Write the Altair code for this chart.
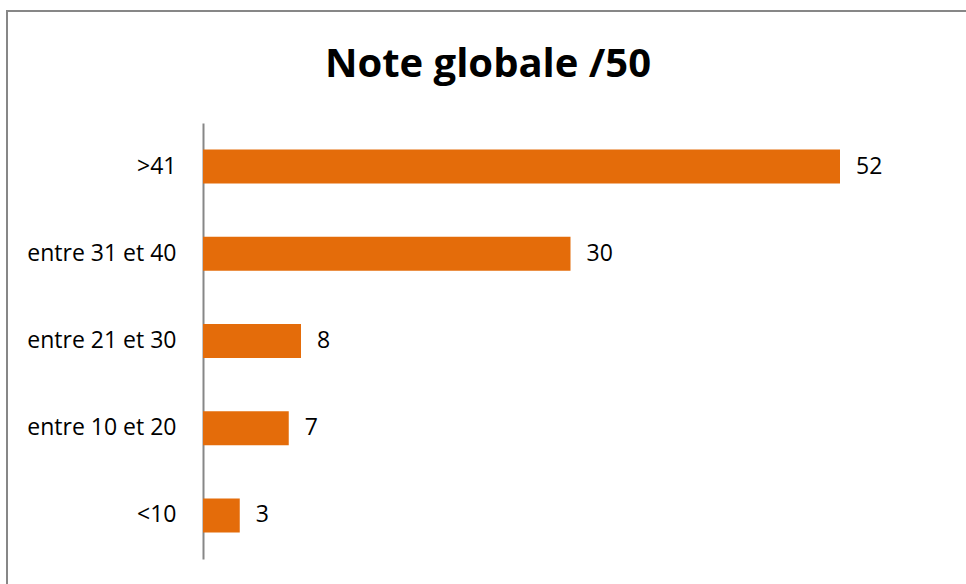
import altair as alt
import pandas as pd

categories = [">41", "entre 31 et 40", "entre 21 et 30", "entre 10 et 20", "<10"]
values = [52, 30, 8, 7, 3]
title_text = "Note globale /50"

df = pd.DataFrame({"cat": categories, "val": values})

FONT = "Open Sans"
W, H = 637, 436

y_enc = alt.Y("cat:N", sort=categories,
              scale=alt.Scale(paddingInner=0.61, paddingOuter=0.305),
              axis=alt.Axis(title=None, ticks=False, domain=True, domainColor="#878787",
                            domainWidth=2, labelFont=FONT, labelFontSize=23,
                            labelColor="#000000", labelPadding=27, grid=False))
x_enc = alt.X("val:Q", scale=alt.Scale(domain=[0, 52], nice=False), axis=None)

base = alt.Chart(df)
bars = base.mark_bar(color="#E46C0A").encode(x=x_enc, y=y_enc)
texts = base.mark_text(align="left", baseline="middle", dx=16, font=FONT,
                       fontSize=23, color="#000000").encode(x=x_enc, y=y_enc, text="val:Q")

frame = alt.Chart(df).mark_rect(fill=None, stroke="#878787", strokeWidth=2, clip=False).encode(
    x=alt.value(-196), x2=alt.value(1500), y=alt.value(-112), y2=alt.value(1000)
)
title = alt.Chart(pd.DataFrame({"t": [title_text]})).mark_text(
    font=FONT, fontSize=40, fontWeight="bold", color="#000000", align="center",
    baseline="alphabetic"
).encode(x=alt.value(285), y=alt.value(-46), text="t:N")

chart = alt.layer(frame, bars, texts, title).properties(
    width=W, height=H,
    padding={"left": 203, "top": 123, "right": 126, "bottom": 25},
    autosize=alt.AutoSizeParams(type="none"),
).configure(background="white").configure_view(stroke=None)

chart.save("out.html", embed_options={"renderer": "svg", "actions": False})
